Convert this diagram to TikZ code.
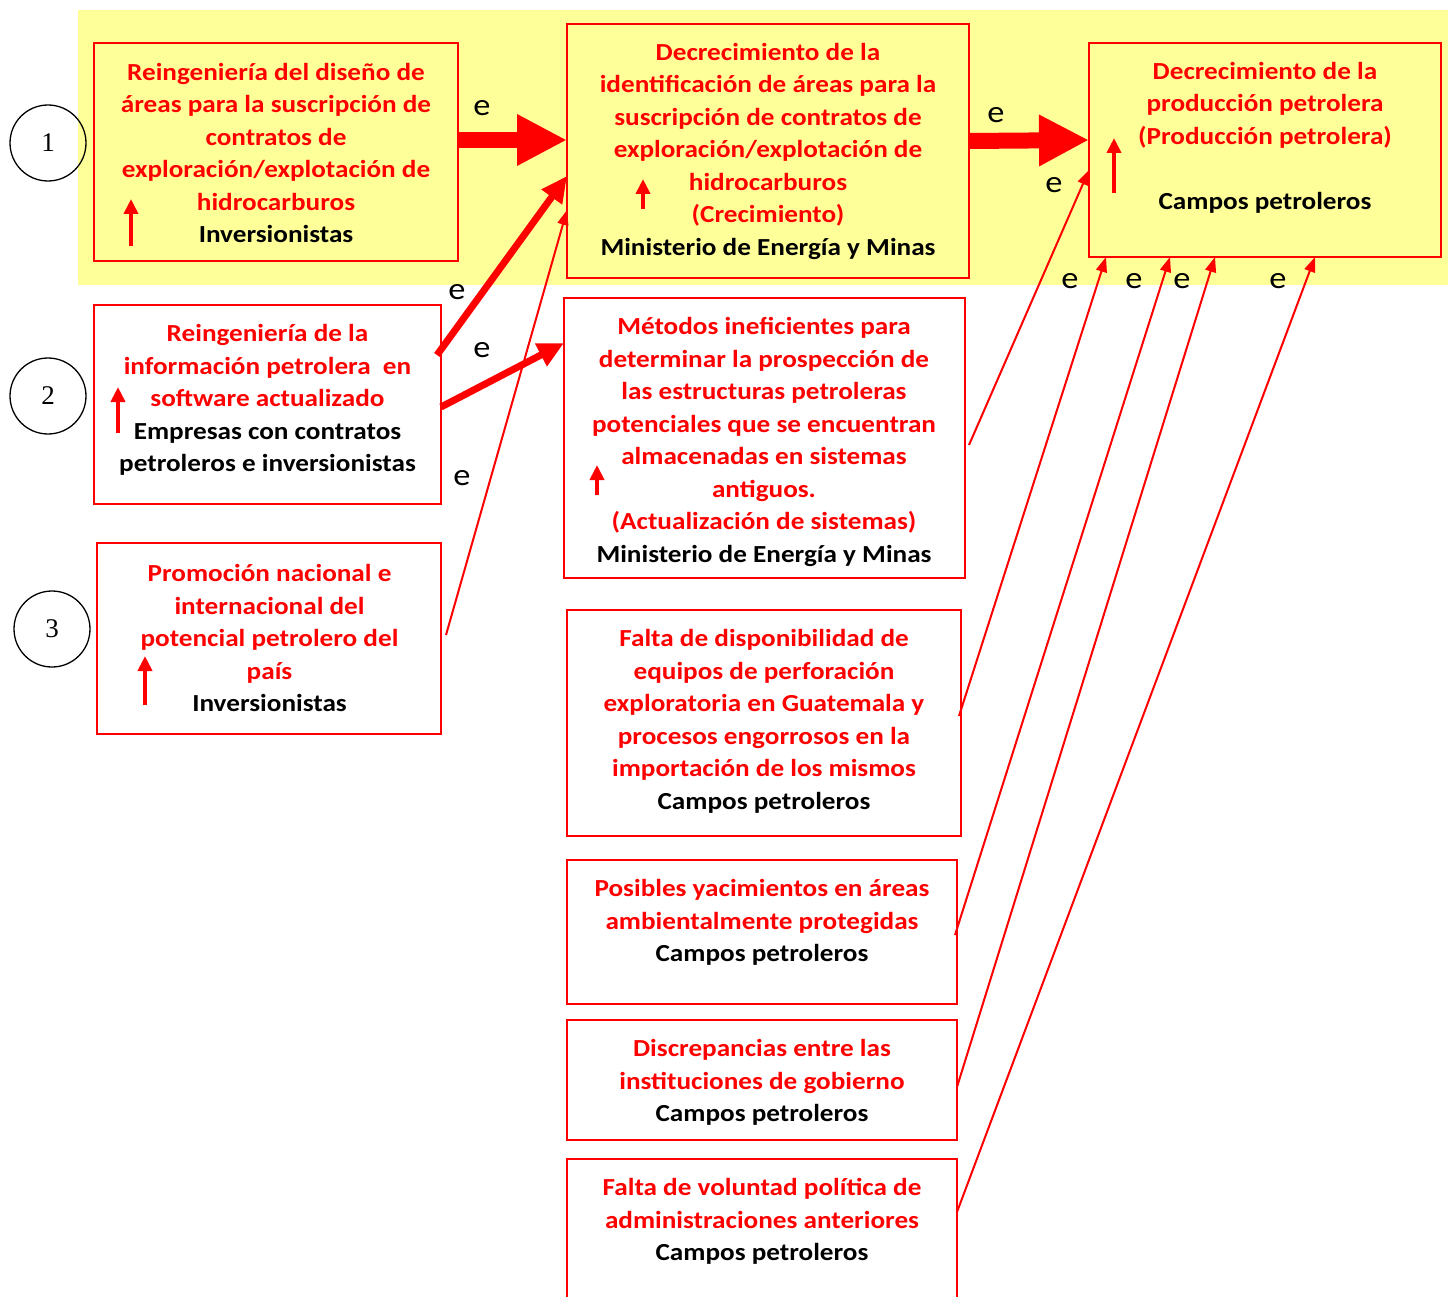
\documentclass[tikz,border=0pt]{standalone}
\usepackage{fontspec}
\setmainfont{Carlito}[FakeStretch=1.11]
\newfontfamily\numfont{Liberation Serif}
\usetikzlibrary{arrows.meta,calc}
\definecolor{bgyellow}{RGB}{255,255,153}
\begin{document}
\begin{tikzpicture}[x=1pt,y=-1pt,
  box/.style={draw=red,line width=2pt,inner sep=0pt,outer sep=0pt,rectangle},
  txt/.style={align=center,text=red,font=\fontsize{24.5}{32.5}\selectfont\bfseries,inner sep=0pt},
  elab/.style={font=\fontsize{31}{34}\selectfont,inner sep=0pt},
  num/.style={draw=black,line width=1.3pt,circle,minimum size=76pt,inner sep=0pt,font=\numfont\fontsize{27}{30}\selectfont},
  bigarrow/.style={draw=red,line width=16pt,-{Triangle[length=50pt,width=48pt]}},
  midarrow/.style={draw=red,line width=7pt,-{Triangle[length=26pt,width=24pt]}},
  thinarrow/.style={draw=red,line width=2pt,-{Triangle[length=15pt,width=11pt]}},
  uparrow/.style={draw=red,line width=4.5pt,-{Triangle[length=15pt,width=14pt]}}
]
\useasboundingbox (0,0) rectangle (1448,1297);
\fill[bgyellow] (78,10) rectangle (1448,285);

% boxes
\node[box,minimum width=364pt,minimum height=218pt] (b1) at (276,152) {};
\node[box,minimum width=402pt,minimum height=254pt] (b2) at (768,151) {};
\node[box,minimum width=352pt,minimum height=214pt] (b3) at (1265,150) {};
\node[box,minimum width=347pt,minimum height=199pt] (b4) at (267.5,404.5) {};
\node[box,minimum width=344pt,minimum height=191pt] (b5) at (269,638.5) {};
\node[box,minimum width=401pt,minimum height=280pt] (b6) at (764.5,438) {};
\node[box,minimum width=394pt,minimum height=226pt] (b7) at (764,723) {};
\node[box,minimum width=390pt,minimum height=144pt] (b8) at (762,932) {};
\node[box,minimum width=390pt,minimum height=120pt] (b9) at (762,1080) {};
\node[box,minimum width=390pt,minimum height=171pt] (b10) at (762,1244.5) {};

% texts
\node[txt] (t1) at (276,153) {Reingeniería del diseño de\\áreas para la suscripción de\\contratos de\\exploración/explotación de\\hidrocarburos\\\textcolor{black}{Inversionistas}};
\node[txt] (t2) at (768,151) {Decrecimiento de la\\identificación de áreas para la\\suscripción de contratos de\\exploración/explotación de\\hidrocarburos\\(Crecimiento)\\\textcolor{black}{Ministerio de Energía y Minas}};
\node[txt] (t3) at (1265,137.5) {Decrecimiento de la\\producción petrolera\\(Producción petrolera)\\[32.5pt]\textcolor{black}{Campos petroleros}};
\node[txt] (t4) at (267.5,400) {Reingeniería de la\\información petrolera \ en\\software actualizado\\\textcolor{black}{Empresas con contratos}\\\textcolor{black}{petroleros e inversionistas}};
\node[txt] (t5) at (269.5,638) {Promoción nacional e\\internacional del\\potencial petrolero del\\país\\\textcolor{black}{Inversionistas}};
\node[txt] (t6) at (764,442) {Métodos ineficientes para\\determinar la prospección de\\las estructuras petroleras\\potenciales que se encuentran\\almacenadas en sistemas\\antiguos.\\(Actualización de sistemas)\\\textcolor{black}{Ministerio de Energía y Minas}};
\node[txt] (t7) at (764,721.5) {Falta de disponibilidad de\\equipos de perforación\\exploratoria en Guatemala y\\procesos engorrosos en la\\importación de los mismos\\\textcolor{black}{Campos petroleros}};
\node[txt] (t8) at (762,922.5) {Posibles yacimientos en áreas\\ambientalmente protegidas\\\textcolor{black}{Campos petroleros}};
\node[txt] (t9) at (762,1082.5) {Discrepancias entre las\\instituciones de gobierno\\\textcolor{black}{Campos petroleros}};
\node[txt] (t10) at (762,1221.5) {Falta de voluntad política de\\administraciones anteriores\\\textcolor{black}{Campos petroleros}};

% small up arrows
\coordinate (u1a) at (131,246); \coordinate (u1b) at (131,199);
\coordinate (u2a) at (643,209); \coordinate (u2b) at (643,179);
\coordinate (u3a) at (1114,193); \coordinate (u3b) at (1114,138);
\coordinate (u4a) at (118,433); \coordinate (u4b) at (118,387);
\coordinate (u5a) at (145,705); \coordinate (u5b) at (145,656);
\coordinate (u6a) at (597,495); \coordinate (u6b) at (597,465);
\draw[uparrow] (u1a) -- (u1b);
\draw[uparrow] (u2a) -- (u2b);
\draw[uparrow] (u3a) -- (u3b);
\draw[uparrow] (u4a) -- (u4b);
\draw[uparrow] (u5a) -- (u5b);
\draw[uparrow] (u6a) -- (u6b);

% circles
\node[num] (c1) at (48,143) {1};
\node[num] (c2) at (48,396) {2};
\node[num] (c3) at (52,629) {3};

% connectors
\draw[bigarrow] ([yshift=12pt]b1.east) -- ([yshift=11pt]b2.west);
\draw[bigarrow] ([yshift=10pt]b2.east) -- ([yshift=10pt]b3.west);
\draw[midarrow] ([xshift=-4pt,yshift=49.5pt]b4.east) -- ([yshift=-25pt]b2.west);
\draw[midarrow] ([yshift=-2.5pt]b4.east) -- ([yshift=95pt]b6.west);
\draw[thinarrow] ([xshift=5pt,yshift=3.5pt]b5.east) -- ([yshift=-59pt]b2.west);
\draw[thinarrow] ([xshift=4pt,yshift=-7pt]b6.east) -- ([yshift=-20pt]b3.west);
\draw[thinarrow] ([xshift=-2pt,yshift=7pt]b7.east) -- ([xshift=-159pt]b3.south);
\draw[thinarrow] ([xshift=-2pt,yshift=-3pt]b8.east) -- ([xshift=-95pt]b3.south);
\draw[thinarrow] ([yshift=-7pt]b9.east) -- ([xshift=-50pt]b3.south);
\draw[thinarrow] ([yshift=32.5pt]b10.east) -- ([xshift=50pt]b3.south);

% e labels
\node[elab] (e1) at (482,108) {e};
\node[elab] (e2) at (996,115) {e};
\node[elab] (e3) at (457,292) {e};
\node[elab] (e4) at (482,350) {e};
\node[elab] (e5) at (462,478) {e};
\node[elab] (e6) at (1054,185) {e};
\node[elab] (e7) at (1070,281) {e};
\node[elab] (e8) at (1134,281) {e};
\node[elab] (e9) at (1182,281) {e};
\node[elab] (e10) at (1278,281) {e};
\end{tikzpicture}
\end{document}
